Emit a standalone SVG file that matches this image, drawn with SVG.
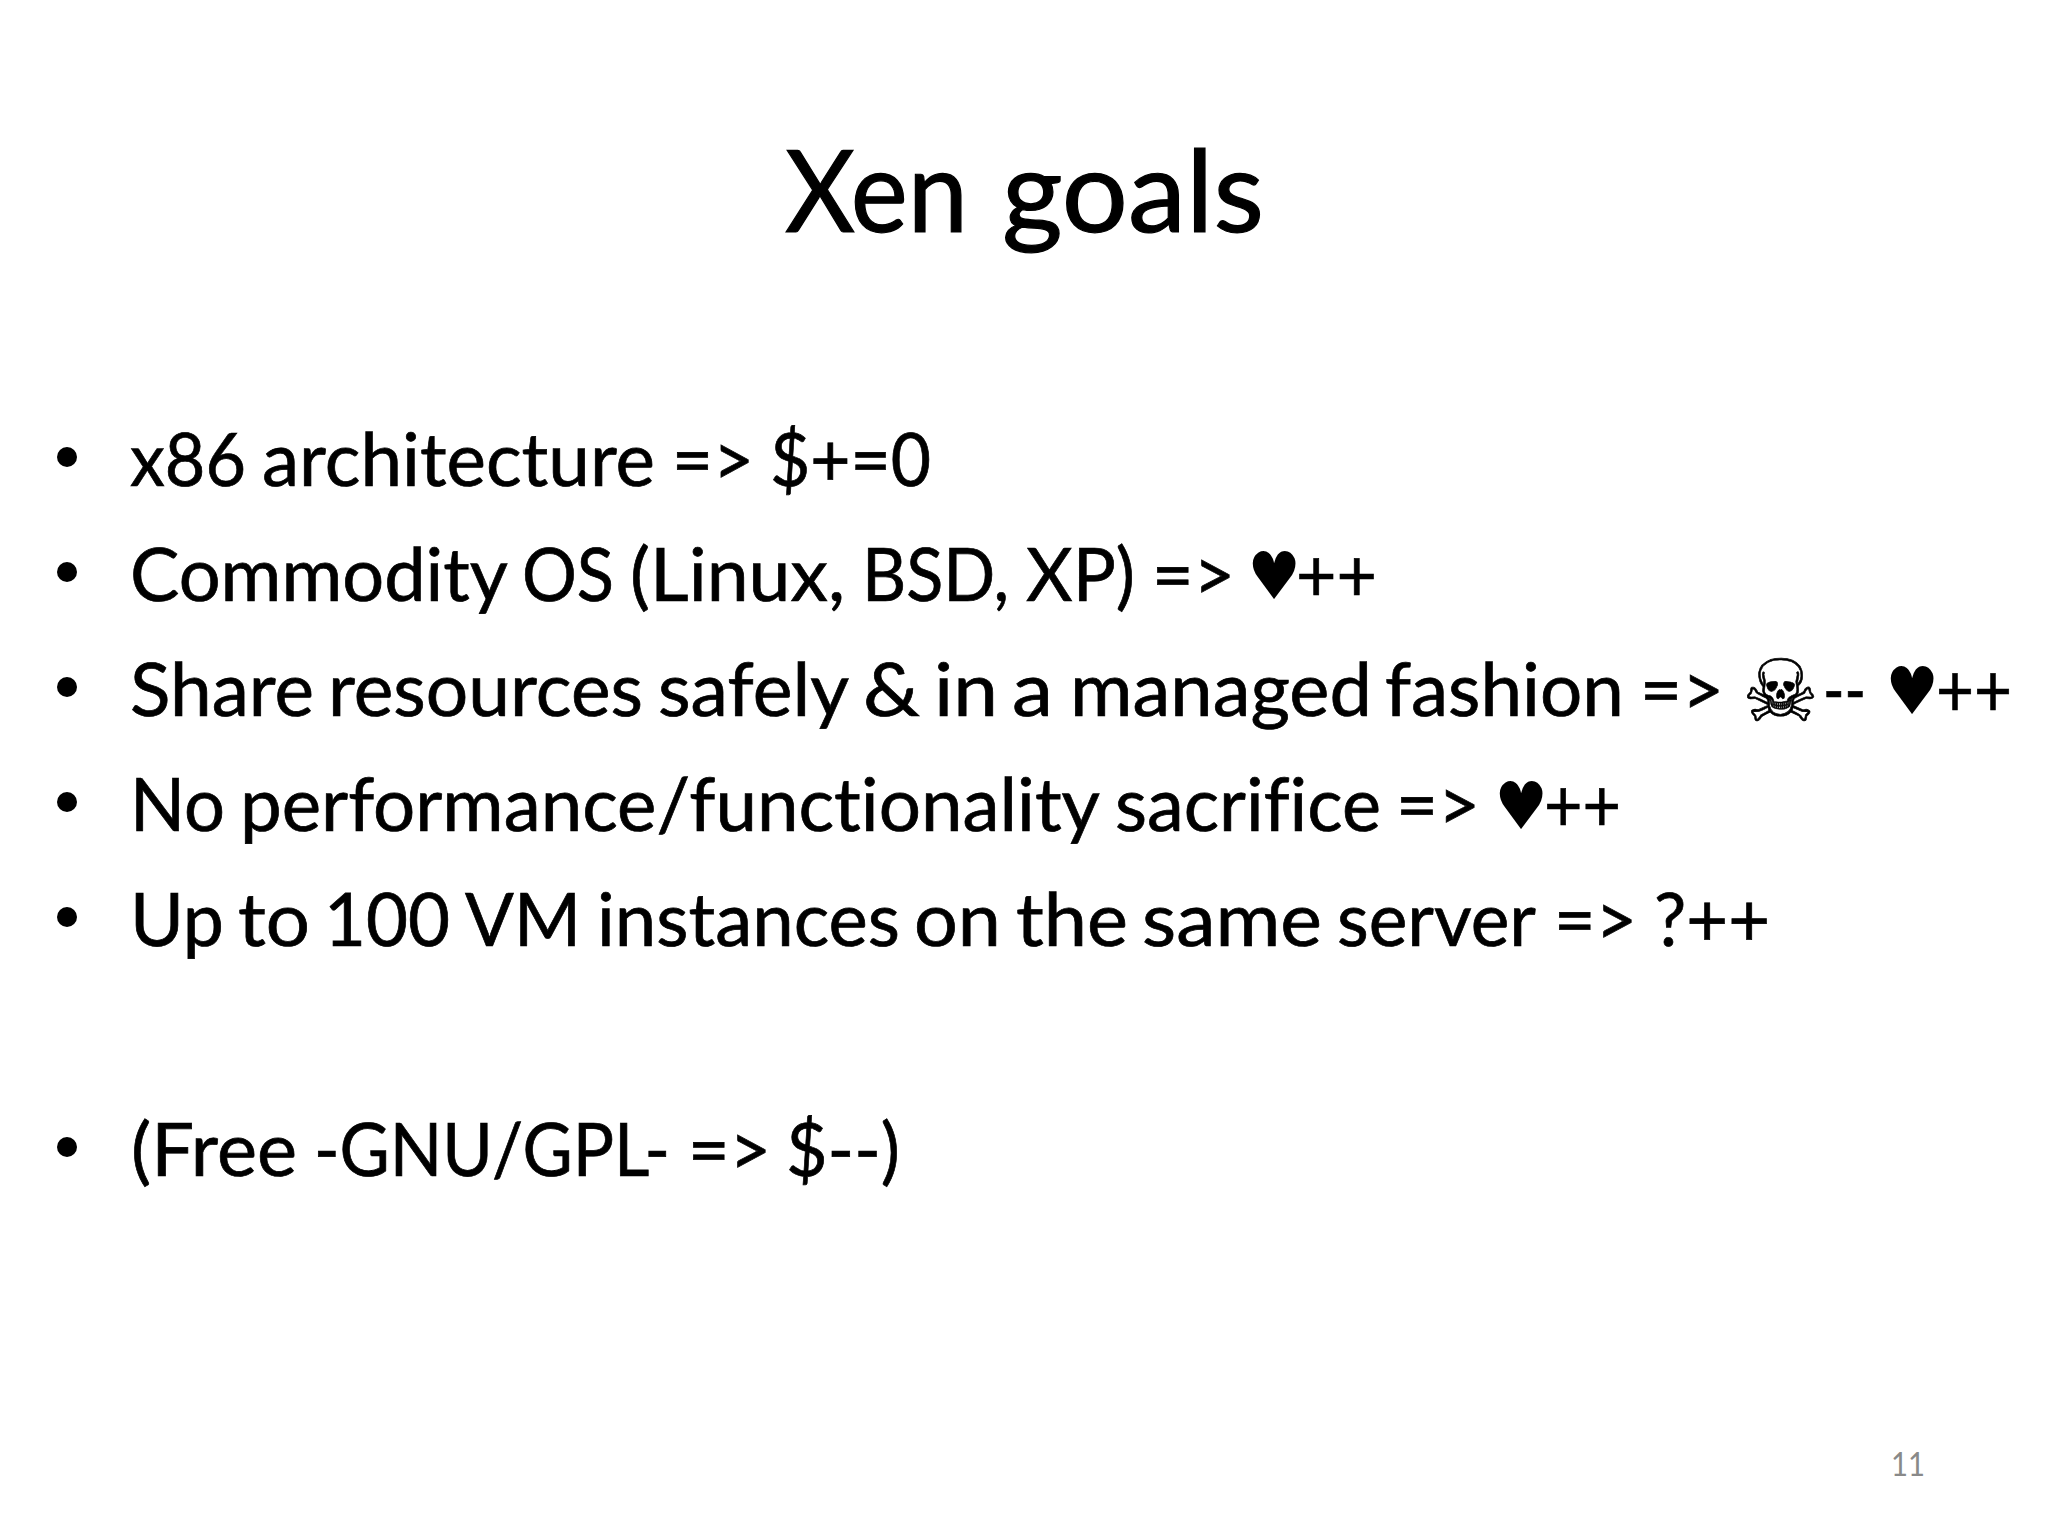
<svg xmlns="http://www.w3.org/2000/svg" width="2048" height="1536" viewBox="0 0 2048 1536">
<style>
text{font-family:"Lato","Carlito","Liberation Sans",sans-serif;fill:#000;font-variant-ligatures:none}
tspan{text-rendering:geometricPrecision}
.b{font-size:74px;stroke:#000;stroke-width:.7px}
.t{font-size:114px;stroke:#000;stroke-width:1.2px}
.s{font-family:"DejaVu Sans",sans-serif;stroke:#000;stroke-width:.6px}
.h{font-family:"DejaVu Sans",sans-serif;font-size:66px}
</style>
<rect width="2048" height="1536" fill="#fff"/>
<text id="title" class="t" y="232"><tspan x="785" textLength="183" lengthAdjust="spacingAndGlyphs">Xen</tspan> <tspan x="1002" textLength="262" lengthAdjust="spacingAndGlyphs">goals</tspan></text>
<g id="bullets" fill="#000"><circle cx="67" cy="457" r="10"/><circle cx="67" cy="572" r="10"/><circle cx="67" cy="687" r="10"/><circle cx="67" cy="802" r="10"/><circle cx="67" cy="917" r="10"/><circle cx="67" cy="1147" r="10"/></g>
<g id="lines">
<text class="b" y="485.5"><tspan x="130" textLength="116" lengthAdjust="spacingAndGlyphs">x86</tspan> <tspan x="262" textLength="393" lengthAdjust="spacingAndGlyphs">architecture</tspan> <tspan x="672" textLength="82" lengthAdjust="spacingAndGlyphs">=&gt;</tspan> <tspan x="770" textLength="161" lengthAdjust="spacingAndGlyphs">$+=0</tspan></text>
<text class="b" y="600.5"><tspan x="130" textLength="378" lengthAdjust="spacingAndGlyphs">Commodity</tspan> <tspan x="522" textLength="92" lengthAdjust="spacingAndGlyphs">OS</tspan> <tspan x="630" textLength="215" lengthAdjust="spacingAndGlyphs">(Linux,</tspan> <tspan x="862" textLength="147" lengthAdjust="spacingAndGlyphs">BSD,</tspan> <tspan x="1026" textLength="109" lengthAdjust="spacingAndGlyphs">XP)</tspan> <tspan x="1152" textLength="83" lengthAdjust="spacingAndGlyphs">=&gt;</tspan></text>
<text class="h" transform="translate(1247.5,599) scale(.9,1)">♥</text>
<text class="b" x="1296" y="600.5" textLength="81" lengthAdjust="spacingAndGlyphs">++</text>
<text class="b" y="715.5"><tspan x="130" textLength="184" lengthAdjust="spacingAndGlyphs">Share</tspan> <tspan x="328" textLength="315" lengthAdjust="spacingAndGlyphs">resources</tspan> <tspan x="658" textLength="191" lengthAdjust="spacingAndGlyphs">safely</tspan> <tspan x="863" textLength="57" lengthAdjust="spacingAndGlyphs">&amp;</tspan> <tspan x="934" textLength="64" lengthAdjust="spacingAndGlyphs">in</tspan> <tspan x="1012" textLength="41" lengthAdjust="spacingAndGlyphs">a</tspan> <tspan x="1070" textLength="302" lengthAdjust="spacingAndGlyphs">managed</tspan> <tspan x="1385" textLength="239" lengthAdjust="spacingAndGlyphs">fashion</tspan> <tspan x="1640" textLength="84" lengthAdjust="spacingAndGlyphs">=&gt;</tspan></text>
<text class="s" x="1742" y="721" font-size="86">☠</text>
<text class="b" x="1823" y="715.5" textLength="43" lengthAdjust="spacingAndGlyphs">--</text>
<text class="h" transform="translate(1885.5,714) scale(.9,1)">♥</text>
<text class="b" x="1936" y="715.5" textLength="76" lengthAdjust="spacingAndGlyphs">++</text>
<text class="b" y="830.5"><tspan x="130" textLength="95" lengthAdjust="spacingAndGlyphs">No</tspan> <tspan x="240" textLength="860" lengthAdjust="spacingAndGlyphs">performance/functionality</tspan> <tspan x="1115" textLength="266" lengthAdjust="spacingAndGlyphs">sacrifice</tspan> <tspan x="1396" textLength="84" lengthAdjust="spacingAndGlyphs">=&gt;</tspan></text>
<text class="h" transform="translate(1494.5,829) scale(.9,1)">♥</text>
<text class="b" x="1544" y="830.5" textLength="77" lengthAdjust="spacingAndGlyphs">++</text>
<text class="b" y="945.5"><tspan x="130" textLength="94" lengthAdjust="spacingAndGlyphs">Up</tspan> <tspan x="238" textLength="72" lengthAdjust="spacingAndGlyphs">to</tspan> <tspan x="324" textLength="126" lengthAdjust="spacingAndGlyphs">100</tspan> <tspan x="465" textLength="116" lengthAdjust="spacingAndGlyphs">VM</tspan> <tspan x="597" textLength="303" lengthAdjust="spacingAndGlyphs">instances</tspan> <tspan x="914" textLength="87" lengthAdjust="spacingAndGlyphs">on</tspan> <tspan x="1016" textLength="112" lengthAdjust="spacingAndGlyphs">the</tspan> <tspan x="1142" textLength="180" lengthAdjust="spacingAndGlyphs">same</tspan> <tspan x="1337" textLength="199" lengthAdjust="spacingAndGlyphs">server</tspan> <tspan x="1554" textLength="83" lengthAdjust="spacingAndGlyphs">=&gt;</tspan> <tspan x="1654" textLength="116" lengthAdjust="spacingAndGlyphs">?++</tspan></text>
<text class="b" y="1175.5"><tspan x="131" textLength="166" lengthAdjust="spacingAndGlyphs">(Free</tspan> <tspan x="314" textLength="356" lengthAdjust="spacingAndGlyphs">-GNU/GPL-</tspan> <tspan x="688" textLength="83" lengthAdjust="spacingAndGlyphs">=&gt;</tspan> <tspan x="786" textLength="114" lengthAdjust="spacingAndGlyphs">$--)</tspan></text>
</g>
<text id="page" x="1891" y="1476" font-size="32" textLength="34" lengthAdjust="spacingAndGlyphs" style="fill:#898989">11</text>
</svg>
